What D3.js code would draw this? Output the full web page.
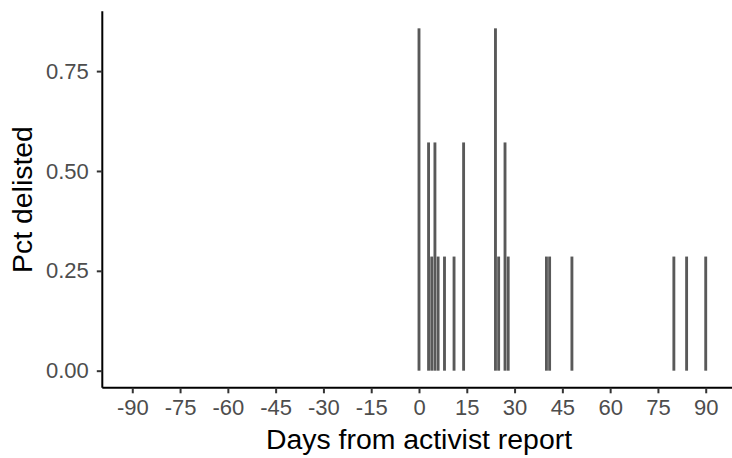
<!DOCTYPE html>
<html>
<head>
<meta charset="utf-8">
<script src="https://cdn.jsdelivr.net/npm/d3@7"></script>
<style>
  html, body { margin: 0; padding: 0; background: #fff; }
  svg { display: block; }
  text { font-family: "Liberation Sans", Arial, Helvetica, sans-serif; }
</style>
</head>
<body>
<svg id="chart" width="732" height="458"></svg>
<script>
// Data
const days   = [0, 3, 4, 5, 6, 8, 11, 14, 24, 25, 27, 28, 40, 41, 48, 80, 84, 90];
const pct    = [0.8571, 0.5714, 0.2857, 0.5714, 0.2857, 0.2857, 0.2857, 0.5714,
                0.8571, 0.2857, 0.5714, 0.2857, 0.2857, 0.2857, 0.2857, 0.2857, 0.2857, 0.2857];
const xTicks = [-90, -75, -60, -45, -30, -15, 0, 15, 30, 45, 60, 75, 90];
const yTicks = [0, 0.25, 0.5, 0.75];
const xTitle = "Days from activist report";
const yTitle = "Pct delisted";

const data = days.map((d, i) => ({ day: d, v: pct[i] }));

const svg = d3.select("#chart");

const x = d3.scaleLinear().domain([-99.41, 99.41]).range([102.3, 735.7]);
const y = d3.scaleLinear().domain([-0.042857, 0.9]).range([387.8, 11.2]);

const barW = 0.9;
const barColor = "#595959";

// bars
svg.append("g")
  .selectAll("rect")
  .data(data)
  .join("rect")
  .attr("x", d => x(d.day - barW / 2))
  .attr("width", d => x(d.day + barW / 2) - x(d.day - barW / 2))
  .attr("y", d => y(d.v))
  .attr("height", d => y(0) - y(d.v))
  .attr("fill", barColor);

// x axis
const xAxis = d3.axisBottom(x)
  .tickValues(xTicks)
  .tickFormat(d => String(d))
  .tickSize(5.5)
  .tickPadding(6.5)
  .tickSizeOuter(0);

const gx = svg.append("g")
  .attr("transform", `translate(0,${y.range()[0]})`)
  .call(xAxis);
gx.select(".domain").attr("stroke", "#000").attr("stroke-width", 2)
  .attr("d", `M${x.range()[0]},0H${x.range()[1]}`);
gx.selectAll(".tick line").attr("stroke", "#333").attr("stroke-width", 2);
gx.selectAll(".tick text")
  .attr("fill", "#4D4D4D")
  .attr("font-size", "22px")
  .attr("font-family", "'Liberation Sans', Arial, sans-serif");

// y axis
const yAxis = d3.axisLeft(y)
  .tickValues(yTicks)
  .tickFormat(d => d.toFixed(2))
  .tickSize(5.5)
  .tickPadding(8)
  .tickSizeOuter(0);

const gy = svg.append("g")
  .attr("transform", `translate(${x.range()[0]},0)`)
  .call(yAxis);
gy.select(".domain").attr("stroke", "#000").attr("stroke-width", 2)
  .attr("d", `M0,${y.range()[0]}V${y.range()[1]}`);
gy.selectAll(".tick line").attr("stroke", "#333").attr("stroke-width", 2);
gy.selectAll(".tick text")
  .attr("fill", "#4D4D4D")
  .attr("font-size", "22px")
  .attr("font-family", "'Liberation Sans', Arial, sans-serif");

// axis titles
svg.append("text")
  .attr("x", (x(-90) + x(90)) / 2)
  .attr("y", 449)
  .attr("text-anchor", "middle")
  .attr("font-size", "28.4px")
  .attr("fill", "#000")
  .text(xTitle);

svg.append("text")
  .attr("transform", `translate(32,${(y(0) + y(0.8571)) / 2}) rotate(-90)`)
  .attr("text-anchor", "middle")
  .attr("font-size", "28.4px")
  .attr("fill", "#000")
  .text(yTitle);
</script>
</body>
</html>
